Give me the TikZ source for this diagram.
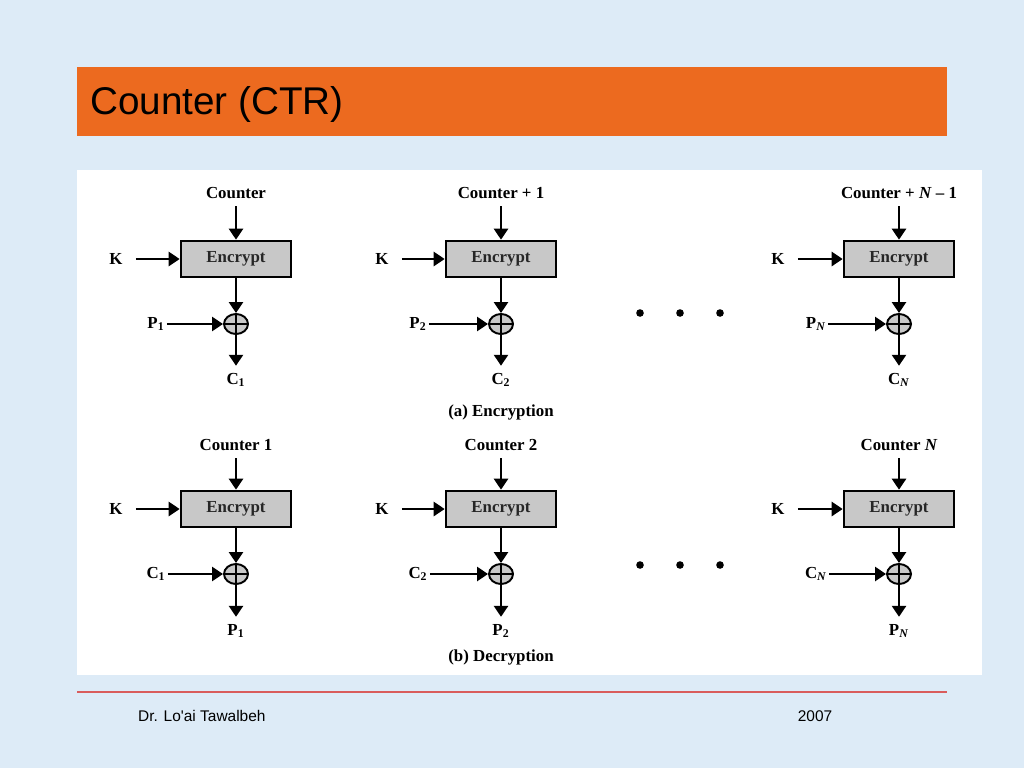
\documentclass[tikz,border=0pt]{standalone}
\usepackage{fontspec}
\setmainfont{Liberation Serif}
\newfontfamily\slidefont{Liberation Sans}
\usetikzlibrary{arrows.meta,shapes.geometric}
\definecolor{slidebg}{RGB}{221,235,247}
\definecolor{titlebar}{RGB}{236,106,31}
\definecolor{footline}{RGB}{217,92,92}
\definecolor{boxgray}{RGB}{200,200,200}
\tikzset{
  lbl/.style = {font = \fontsize{9.6}{11}\selectfont\bfseries, inner xsep = 0.04cm, inner ysep = 0.14cm},
  encbox/.style = {draw, line width = 1.5pt, fill = boxgray, minimum width = 2.2cm, minimum height = 0.72cm,
                   font = \fontsize{9.6}{11}\selectfont\bfseries, text = black!85},
  xor/.style = {ellipse, draw, line width = 1.1pt, fill = boxgray, minimum width = 0.48cm, minimum height = 0.40cm, inner sep = 0pt},
  arr/.style = {line width = 1.5pt, -{Triangle[length = 0.22cm, width = 0.28cm]}},
  karr/.style = {arr, shorten < = 0.22cm}
}
\begin{document}
\begin{tikzpicture}[x = 0.02cm, y = -0.02cm]
    % slide background
    \fill[slidebg] (0,0) rectangle (1024,768);
    \useasboundingbox (0,0) rectangle (1024,768);
    \fill[titlebar] (77,67) rectangle (947,136);
    \node[anchor = west, font = \slidefont\fontsize{22}{26}\selectfont] (title) at (84,104) {Counter (CTR)};
    \fill[white] (77,170) rectangle (982,675);
    \draw[footline, line width = 1.6pt] (77,692) -- (947,692);
    \begin{scope}[every node/.append style = {font = \slidefont\fontsize{8.8}{10}\selectfont}]
        \node[anchor = west] (author) at (132,716) {Dr. Lo'ai Tawalbeh};
        \node (year) at (815,716) {2007};
    \end{scope}
    % (a) encryption
    \node[encbox] (ea1) at (236,259) {Encrypt};
    \node[encbox] (ea2) at (501,259) {Encrypt};
    \node[encbox] (ea3) at (899,259) {Encrypt};
    \node[lbl] (cta1) at (236,193) {Counter};
    \node[lbl] (cta2) at (501,193) {Counter + 1};
    \node[lbl] (cta3) at (899,193) {Counter + \textit{N} -- 1};
    \node[lbl] (ka1) at (116,259) {K};
    \node[lbl] (ka2) at (382,259) {K};
    \node[lbl] (ka3) at (778,259) {K};
    \node[xor] (xa1) at (236,324) {};
    \node[xor] (xa2) at (501,324) {};
    \node[xor] (xa3) at (899,324) {};
    \node[lbl] (pa1) at (156,324) {P\textsubscript{1}};
    \node[lbl] (pa2) at (418,324) {P\textsubscript{2}};
    \node[lbl] (pa3) at (816,324) {P\textsubscript{\textit{N}}};
    \node[lbl] (ca1) at (236,380) {C\textsubscript{1}};
    \node[lbl] (ca2) at (501,380) {C\textsubscript{2}};
    \node[lbl] (ca3) at (899,380) {C\textsubscript{\textit{N}}};
    \node[lbl] (capa) at (501,412) {(a) Encryption};
    % (b) decryption
    \node[encbox] (eb1) at (236,509) {Encrypt};
    \node[encbox] (eb2) at (501,509) {Encrypt};
    \node[encbox] (eb3) at (899,509) {Encrypt};
    \node[lbl] (ctb1) at (236,445) {Counter 1};
    \node[lbl] (ctb2) at (501,445) {Counter 2};
    \node[lbl] (ctb3) at (899,445) {Counter \textit{N}};
    \node[lbl] (kb1) at (116,509) {K};
    \node[lbl] (kb2) at (382,509) {K};
    \node[lbl] (kb3) at (778,509) {K};
    \node[xor] (xb1) at (236,574) {};
    \node[xor] (xb2) at (501,574) {};
    \node[xor] (xb3) at (899,574) {};
    \node[lbl] (cb1) at (156,574) {C\textsubscript{1}};
    \node[lbl] (cb2) at (418,574) {C\textsubscript{2}};
    \node[lbl] (cb3) at (816,574) {C\textsubscript{\textit{N}}};
    \node[lbl] (pb1) at (236,631) {P\textsubscript{1}};
    \node[lbl] (pb2) at (501,631) {P\textsubscript{2}};
    \node[lbl] (pb3) at (899,631) {P\textsubscript{\textit{N}}};
    \node[lbl] (capb) at (501,657) {(b) Decryption};
    % arrows
    \draw[arr] (cta1) -- (ea1);
    \draw[arr] (cta2) -- (ea2);
    \draw[arr] (cta3) -- (ea3);
    \draw[karr] (ka1) -- (ea1);
    \draw[karr] (ka2) -- (ea2);
    \draw[karr] (ka3) -- (ea3);
    \draw[arr] (ea1) -- (xa1);
    \draw[arr] (ea2) -- (xa2);
    \draw[arr] (ea3) -- (xa3);
    \draw[arr] (pa1) -- (xa1);
    \draw[arr] (pa2) -- (xa2);
    \draw[arr] (pa3) -- (xa3);
    \draw[arr] (xa1) -- (ca1);
    \draw[arr] (xa2) -- (ca2);
    \draw[arr] (xa3) -- (ca3);
    \draw[arr] (ctb1) -- (eb1);
    \draw[arr] (ctb2) -- (eb2);
    \draw[arr] (ctb3) -- (eb3);
    \draw[karr] (kb1) -- (eb1);
    \draw[karr] (kb2) -- (eb2);
    \draw[karr] (kb3) -- (eb3);
    \draw[arr] (eb1) -- (xb1);
    \draw[arr] (eb2) -- (xb2);
    \draw[arr] (eb3) -- (xb3);
    \draw[arr] (cb1) -- (xb1);
    \draw[arr] (cb2) -- (xb2);
    \draw[arr] (cb3) -- (xb3);
    \draw[arr] (xb1) -- (pb1);
    \draw[arr] (xb2) -- (pb2);
    \draw[arr] (xb3) -- (pb3);
    % plus signs inside the xor circles
    \begin{scope}[line width = 0.6pt]
        \draw (xa1.north) -- (xa1.south) (xa1.west) -- (xa1.east);
        \draw (xa2.north) -- (xa2.south) (xa2.west) -- (xa2.east);
        \draw (xa3.north) -- (xa3.south) (xa3.west) -- (xa3.east);
        \draw (xb1.north) -- (xb1.south) (xb1.west) -- (xb1.east);
        \draw (xb2.north) -- (xb2.south) (xb2.west) -- (xb2.east);
        \draw (xb3.north) -- (xb3.south) (xb3.west) -- (xb3.east);
    \end{scope}
    % dots
    \fill (640,313) circle[radius = 3.8];
    \fill (680,313) circle[radius = 3.8];
    \fill (720,313) circle[radius = 3.8];
    \fill (640,565) circle[radius = 3.8];
    \fill (680,565) circle[radius = 3.8];
    \fill (720,565) circle[radius = 3.8];
\end{tikzpicture}
\end{document}
